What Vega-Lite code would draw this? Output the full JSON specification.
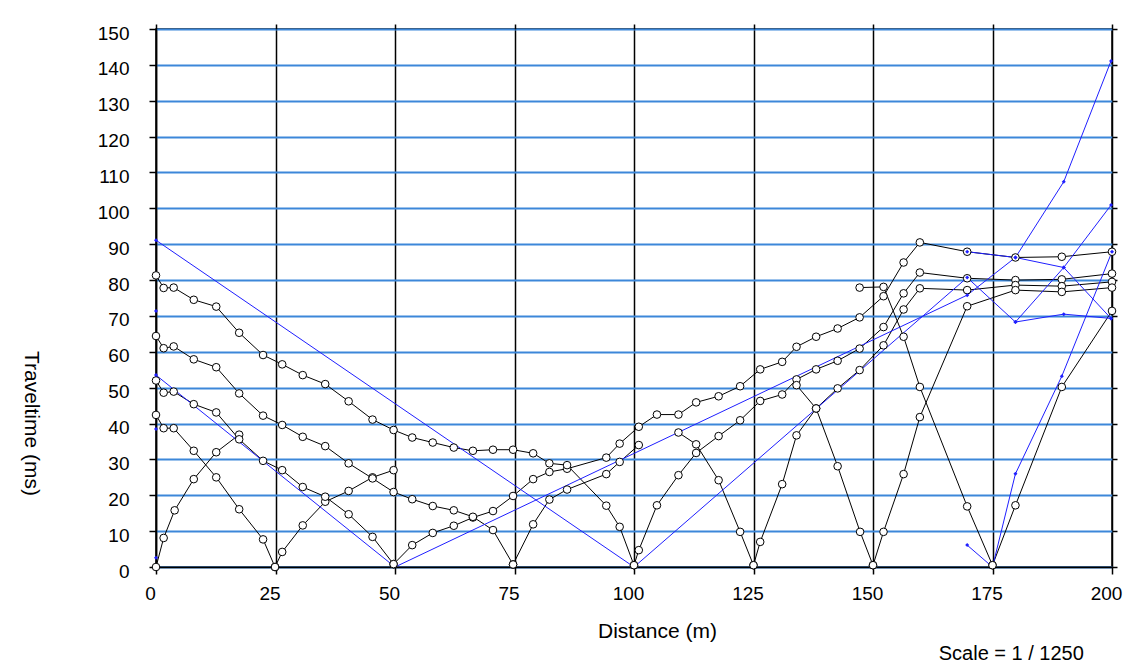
{
  "$schema": "https://vega.github.io/schema/vega-lite/v6.json",
  "width": 956,
  "height": 538,
  "autosize": {"type": "none"},
  "padding": {"left": 156, "top": 29, "right": 14, "bottom": 99},
  "background": "white",
  "title": {"text": "Scale = 1 / 1250", "orient": "bottom", "anchor": "end", "dx": -38, "offset": 3, "fontSize": 20, "font": "Liberation Sans", "fontWeight": "normal", "color": "black"},
  "config": {
    "view": {"stroke": "black", "strokeWidth": 1.5},
    "axis": {"labelFont": "Liberation Sans", "titleFont": "Liberation Sans", "labelColor": "black", "titleColor": "black", "domainColor": "black", "tickColor": "black", "titleFontWeight": "normal", "domainWidth": 1.5, "tickWidth": 1.5}
  },
  "datasets": {
    "curves": [
      {"s": "S0F", "k": "pick", "x": 0, "t": 0}, {"s": "S0F", "k": "pick", "x": 1.6, "t": 8.1}, {"s": "S0F", "k": "pick", "x": 3.9, "t": 15.8}, {"s": "S0F", "k": "pick", "x": 7.9, "t": 24.5}, {"s": "S0F", "k": "pick", "x": 12.6, "t": 32}, {"s": "S0F", "k": "pick", "x": 17.4, "t": 36.9},
      {"s": "S25R", "k": "pick", "x": 0, "t": 42.4}, {"s": "S25R", "k": "pick", "x": 1.6, "t": 38.7}, {"s": "S25R", "k": "pick", "x": 3.7, "t": 38.7}, {"s": "S25R", "k": "pick", "x": 7.9, "t": 32.4}, {"s": "S25R", "k": "pick", "x": 12.6, "t": 25}, {"s": "S25R", "k": "pick", "x": 17.4, "t": 16.1}, {"s": "S25R", "k": "pick", "x": 22.4, "t": 7.7}, {"s": "S25R", "k": "pick", "x": 24.9, "t": 0},
      {"s": "S25F", "k": "pick", "x": 24.9, "t": 0}, {"s": "S25F", "k": "pick", "x": 26.4, "t": 4.2}, {"s": "S25F", "k": "pick", "x": 30.7, "t": 11.6}, {"s": "S25F", "k": "pick", "x": 35.4, "t": 18.2}, {"s": "S25F", "k": "pick", "x": 40.3, "t": 21.2}, {"s": "S25F", "k": "pick", "x": 45.3, "t": 25}, {"s": "S25F", "k": "pick", "x": 49.7, "t": 27},
      {"s": "S50R", "k": "pick", "x": 0, "t": 52}, {"s": "S50R", "k": "pick", "x": 1.6, "t": 48.6}, {"s": "S50R", "k": "pick", "x": 3.7, "t": 48.9}, {"s": "S50R", "k": "pick", "x": 7.9, "t": 45.4}, {"s": "S50R", "k": "pick", "x": 12.6, "t": 43.1}, {"s": "S50R", "k": "pick", "x": 17.4, "t": 35.6}, {"s": "S50R", "k": "pick", "x": 22.4, "t": 29.6}, {"s": "S50R", "k": "pick", "x": 26.4, "t": 27}, {"s": "S50R", "k": "pick", "x": 30.7, "t": 22.3}, {"s": "S50R", "k": "pick", "x": 35.4, "t": 19.6}, {"s": "S50R", "k": "pick", "x": 40.3, "t": 14.7}, {"s": "S50R", "k": "pick", "x": 45.3, "t": 8.4}, {"s": "S50R", "k": "pick", "x": 49.7, "t": 0.8},
      {"s": "S50F", "k": "pick", "x": 49.7, "t": 0.8}, {"s": "S50F", "k": "pick", "x": 53.6, "t": 6.1}, {"s": "S50F", "k": "pick", "x": 57.9, "t": 9.5}, {"s": "S50F", "k": "pick", "x": 62.3, "t": 11.5}, {"s": "S50F", "k": "pick", "x": 66.3, "t": 13.8}, {"s": "S50F", "k": "pick", "x": 70.5, "t": 15.6}, {"s": "S50F", "k": "pick", "x": 74.7, "t": 19.8}, {"s": "S50F", "k": "pick", "x": 78.9, "t": 24.5}, {"s": "S50F", "k": "pick", "x": 82.3, "t": 26.5}, {"s": "S50F", "k": "pick", "x": 86, "t": 27.4}, {"s": "S50F", "k": "pick", "x": 94.2, "t": 30.5}, {"s": "S50F", "k": "pick", "x": 97, "t": 34.4}, {"s": "S50F", "k": "pick", "x": 101, "t": 39.1}, {"s": "S50F", "k": "pick", "x": 104.8, "t": 42.5}, {"s": "S50F", "k": "pick", "x": 109.3, "t": 42.5}, {"s": "S50F", "k": "pick", "x": 113, "t": 45.9}, {"s": "S50F", "k": "pick", "x": 117.7, "t": 47.6}, {"s": "S50F", "k": "pick", "x": 122.2, "t": 50.4}, {"s": "S50F", "k": "pick", "x": 126.4, "t": 55.1}, {"s": "S50F", "k": "pick", "x": 131, "t": 57.2}, {"s": "S50F", "k": "pick", "x": 134, "t": 61.4}, {"s": "S50F", "k": "pick", "x": 138.1, "t": 64.2}, {"s": "S50F", "k": "pick", "x": 142.6, "t": 66.5}, {"s": "S50F", "k": "pick", "x": 147.2, "t": 69.6}, {"s": "S50F", "k": "pick", "x": 152.2, "t": 75.5}, {"s": "S50F", "k": "pick", "x": 156.4, "t": 84.9}, {"s": "S50F", "k": "pick", "x": 159.8, "t": 90.5}, {"s": "S50F", "k": "pick", "x": 169.7, "t": 87.9}, {"s": "S50F", "k": "pick", "x": 179.8, "t": 86.3}, {"s": "S50F", "k": "pick", "x": 189.5, "t": 86.5}, {"s": "S50F", "k": "pick", "x": 200, "t": 87.9},
      {"s": "S75R", "k": "pick", "x": 0, "t": 64.4}, {"s": "S75R", "k": "pick", "x": 1.6, "t": 61}, {"s": "S75R", "k": "pick", "x": 3.7, "t": 61.5}, {"s": "S75R", "k": "pick", "x": 7.9, "t": 57.9}, {"s": "S75R", "k": "pick", "x": 12.6, "t": 55.7}, {"s": "S75R", "k": "pick", "x": 17.4, "t": 48.4}, {"s": "S75R", "k": "pick", "x": 22.4, "t": 42.2}, {"s": "S75R", "k": "pick", "x": 26.4, "t": 39.6}, {"s": "S75R", "k": "pick", "x": 30.7, "t": 36.3}, {"s": "S75R", "k": "pick", "x": 35.4, "t": 33.7}, {"s": "S75R", "k": "pick", "x": 40.3, "t": 28.9}, {"s": "S75R", "k": "pick", "x": 45.3, "t": 24.7}, {"s": "S75R", "k": "pick", "x": 49.7, "t": 20.9}, {"s": "S75R", "k": "pick", "x": 53.6, "t": 18.9}, {"s": "S75R", "k": "pick", "x": 57.9, "t": 17}, {"s": "S75R", "k": "pick", "x": 62.3, "t": 15.8}, {"s": "S75R", "k": "pick", "x": 66.3, "t": 14}, {"s": "S75R", "k": "pick", "x": 70.5, "t": 10.3}, {"s": "S75R", "k": "pick", "x": 74.7, "t": 0.7},
      {"s": "S75F", "k": "pick", "x": 74.7, "t": 0.7}, {"s": "S75F", "k": "pick", "x": 78.9, "t": 11.9}, {"s": "S75F", "k": "pick", "x": 82.3, "t": 18.8}, {"s": "S75F", "k": "pick", "x": 86, "t": 21.6}, {"s": "S75F", "k": "pick", "x": 94.2, "t": 25.9}, {"s": "S75F", "k": "pick", "x": 97, "t": 29.3}, {"s": "S75F", "k": "pick", "x": 101, "t": 34},
      {"s": "S100R", "k": "pick", "x": 0, "t": 81.3}, {"s": "S100R", "k": "pick", "x": 1.6, "t": 77.8}, {"s": "S100R", "k": "pick", "x": 3.7, "t": 77.9}, {"s": "S100R", "k": "pick", "x": 7.9, "t": 74.5}, {"s": "S100R", "k": "pick", "x": 12.6, "t": 72.6}, {"s": "S100R", "k": "pick", "x": 17.4, "t": 65.3}, {"s": "S100R", "k": "pick", "x": 22.4, "t": 59.1}, {"s": "S100R", "k": "pick", "x": 26.4, "t": 56.5}, {"s": "S100R", "k": "pick", "x": 30.7, "t": 53.5}, {"s": "S100R", "k": "pick", "x": 35.4, "t": 51}, {"s": "S100R", "k": "pick", "x": 40.3, "t": 46.2}, {"s": "S100R", "k": "pick", "x": 45.3, "t": 41.1}, {"s": "S100R", "k": "pick", "x": 49.7, "t": 38.2}, {"s": "S100R", "k": "pick", "x": 53.6, "t": 36.1}, {"s": "S100R", "k": "pick", "x": 57.9, "t": 34.7}, {"s": "S100R", "k": "pick", "x": 62.3, "t": 33.3}, {"s": "S100R", "k": "pick", "x": 66.3, "t": 32.4}, {"s": "S100R", "k": "pick", "x": 70.5, "t": 32.7}, {"s": "S100R", "k": "pick", "x": 74.7, "t": 32.7}, {"s": "S100R", "k": "pick", "x": 78.9, "t": 31.7}, {"s": "S100R", "k": "pick", "x": 82.3, "t": 28.9}, {"s": "S100R", "k": "pick", "x": 86, "t": 28.4}, {"s": "S100R", "k": "pick", "x": 94.2, "t": 17.1}, {"s": "S100R", "k": "pick", "x": 97, "t": 11.2}, {"s": "S100R", "k": "pick", "x": 100, "t": 0.5},
      {"s": "S100F", "k": "pick", "x": 100, "t": 0.5}, {"s": "S100F", "k": "pick", "x": 101, "t": 4.7}, {"s": "S100F", "k": "pick", "x": 104.8, "t": 17.2}, {"s": "S100F", "k": "pick", "x": 109.3, "t": 25.6}, {"s": "S100F", "k": "pick", "x": 113, "t": 31.8}, {"s": "S100F", "k": "pick", "x": 117.7, "t": 36.5}, {"s": "S100F", "k": "pick", "x": 122.2, "t": 40.9}, {"s": "S100F", "k": "pick", "x": 126.4, "t": 46.3}, {"s": "S100F", "k": "pick", "x": 131, "t": 48.1}, {"s": "S100F", "k": "pick", "x": 134, "t": 52.3}, {"s": "S100F", "k": "pick", "x": 138.1, "t": 55.1}, {"s": "S100F", "k": "pick", "x": 142.6, "t": 57.5}, {"s": "S100F", "k": "pick", "x": 147.2, "t": 60.9}, {"s": "S100F", "k": "pick", "x": 152.2, "t": 66.9}, {"s": "S100F", "k": "pick", "x": 156.4, "t": 76.3}, {"s": "S100F", "k": "pick", "x": 159.8, "t": 82.1}, {"s": "S100F", "k": "pick", "x": 169.7, "t": 80.5}, {"s": "S100F", "k": "pick", "x": 179.8, "t": 80}, {"s": "S100F", "k": "pick", "x": 189.5, "t": 80.2}, {"s": "S100F", "k": "pick", "x": 200, "t": 81.8},
      {"s": "S125R", "k": "pick", "x": 109.3, "t": 37.5}, {"s": "S125R", "k": "pick", "x": 113, "t": 34.2}, {"s": "S125R", "k": "pick", "x": 117.7, "t": 24.2}, {"s": "S125R", "k": "pick", "x": 122.2, "t": 9.8}, {"s": "S125R", "k": "pick", "x": 125, "t": 0.5},
      {"s": "S125F", "k": "pick", "x": 125, "t": 0.5}, {"s": "S125F", "k": "pick", "x": 126.4, "t": 7}, {"s": "S125F", "k": "pick", "x": 131, "t": 23.1}, {"s": "S125F", "k": "pick", "x": 134, "t": 36.7}, {"s": "S125F", "k": "pick", "x": 138.1, "t": 44.2}, {"s": "S125F", "k": "pick", "x": 142.6, "t": 49.8}, {"s": "S125F", "k": "pick", "x": 147.2, "t": 54.9}, {"s": "S125F", "k": "pick", "x": 152.2, "t": 61.8}, {"s": "S125F", "k": "pick", "x": 156.4, "t": 71.8}, {"s": "S125F", "k": "pick", "x": 159.8, "t": 77.7}, {"s": "S125F", "k": "pick", "x": 169.7, "t": 77.2}, {"s": "S125F", "k": "pick", "x": 179.8, "t": 78.6}, {"s": "S125F", "k": "pick", "x": 189.5, "t": 78.3}, {"s": "S125F", "k": "pick", "x": 200, "t": 79.5},
      {"s": "S150R", "k": "pick", "x": 134, "t": 50.7}, {"s": "S150R", "k": "pick", "x": 138.1, "t": 44.2}, {"s": "S150R", "k": "pick", "x": 142.6, "t": 28.1}, {"s": "S150R", "k": "pick", "x": 147.3, "t": 9.8}, {"s": "S150R", "k": "pick", "x": 150, "t": 0.5},
      {"s": "S150F", "k": "pick", "x": 150, "t": 0.5}, {"s": "S150F", "k": "pick", "x": 152.2, "t": 9.8}, {"s": "S150F", "k": "pick", "x": 156.4, "t": 25.9}, {"s": "S150F", "k": "pick", "x": 159.8, "t": 41.8}, {"s": "S150F", "k": "pick", "x": 169.7, "t": 72.7}, {"s": "S150F", "k": "pick", "x": 179.8, "t": 77.2}, {"s": "S150F", "k": "pick", "x": 189.5, "t": 76.7}, {"s": "S150F", "k": "pick", "x": 200, "t": 77.9},
      {"s": "S175R", "k": "pick", "x": 147.2, "t": 77.9}, {"s": "S175R", "k": "pick", "x": 152.2, "t": 78.1}, {"s": "S175R", "k": "pick", "x": 156.4, "t": 64.2}, {"s": "S175R", "k": "pick", "x": 159.8, "t": 50.2}, {"s": "S175R", "k": "pick", "x": 169.7, "t": 16.9}, {"s": "S175R", "k": "pick", "x": 175, "t": 0.5},
      {"s": "S175F", "k": "pick", "x": 175, "t": 0.5}, {"s": "S175F", "k": "pick", "x": 179.8, "t": 17.2}, {"s": "S175F", "k": "pick", "x": 189.5, "t": 50.2}, {"s": "S175F", "k": "pick", "x": 200, "t": 71.4},
      {"s": "P1", "k": "model", "x": 0, "t": 91.1}, {"s": "P1", "k": "model", "x": 100, "t": 0},
      {"s": "P2", "k": "model", "x": 0, "t": 53.5}, {"s": "P2", "k": "model", "x": 50, "t": 0},
      {"s": "P3", "k": "model", "x": 50, "t": 0}, {"s": "P3", "k": "model", "x": 169.7, "t": 75.8}, {"s": "P3", "k": "model", "x": 179.8, "t": 86.3}, {"s": "P3", "k": "model", "x": 189.9, "t": 107.4}, {"s": "P3", "k": "model", "x": 199.8, "t": 141.1},
      {"s": "P4", "k": "model", "x": 100, "t": 0}, {"s": "P4", "k": "model", "x": 169.7, "t": 80.7}, {"s": "P4", "k": "model", "x": 179.8, "t": 68.3}, {"s": "P4", "k": "model", "x": 189.9, "t": 70.5}, {"s": "P4", "k": "model", "x": 199.8, "t": 69.3},
      {"s": "P5", "k": "model", "x": 169.7, "t": 87.9}, {"s": "P5", "k": "model", "x": 179.8, "t": 86.3}, {"s": "P5", "k": "model", "x": 189.9, "t": 83.5}, {"s": "P5", "k": "model", "x": 199.8, "t": 69.3},
      {"s": "P6", "k": "model", "x": 169.7, "t": 6.1}, {"s": "P6", "k": "model", "x": 175, "t": 0}, {"s": "P6", "k": "model", "x": 179.8, "t": 26}, {"s": "P6", "k": "model", "x": 189.5, "t": 53.2}, {"s": "P6", "k": "model", "x": 200, "t": 87.9},
      {"s": "P7", "k": "model", "x": 179.8, "t": 68.3}, {"s": "P7", "k": "model", "x": 189.9, "t": 83.5}, {"s": "P7", "k": "model", "x": 199.8, "t": 100.9},
      {"s": "M1", "k": "model", "x": 0, "t": 71.4}, {"s": "M2", "k": "model", "x": 0, "t": 38.5}, {"s": "M3", "k": "model", "x": 0, "t": 2.6}
    ]
  },
  "data": {"name": "curves"},
  "resolve": {"axis": {"x": "independent", "y": "independent"}},
  "layer": [
    {
      "mark": {"type": "line", "strokeWidth": 1},
      "encoding": {
        "x": {"field": "x", "type": "quantitative", "scale": {"domain": [0, 200], "nice": false, "zero": false},
          "axis": {"orient": "bottom", "values": [0, 25, 50, 75, 100, 125, 150, 175, 200], "title": "Distance (m)", "titleFontSize": 21, "titleX": 501, "titleY": 64, "titleBaseline": "middle", "titleAlign": "center", "labelFontSize": 19, "labelPadding": 10, "labelOffset": -6, "tickSize": 7, "gridColor": "black", "gridWidth": 1.5, "gridOpacity": 1, "labelFlush": false}},
        "y": {"field": "t", "type": "quantitative", "scale": {"domain": [0, 150], "nice": false},
          "axis": {"orient": "left", "values": [0, 10, 20, 30, 40, 50, 60, 70, 80, 90, 100, 110, 120, 130, 140, 150], "title": "Traveltime (ms)", "titleFontSize": 21, "titleAngle": 90, "titleX": -126, "titleY": 394, "titleAlign": "center", "titleBaseline": "middle", "labelFontSize": 19, "labelPadding": 20, "labelOffset": 4, "tickSize": 7, "gridColor": "#3c87d9", "gridWidth": 2, "gridOpacity": 1, "labelFlush": false}},
        "detail": {"field": "s"},
        "color": {"field": "k", "type": "nominal", "scale": {"domain": ["pick", "model"], "range": ["black", "#1f1fff"]}, "legend": null}
      }
    },
    {
      "transform": [{"filter": "datum.k == 'pick'"}],
      "mark": {"type": "point", "shape": "circle", "size": 58, "filled": true, "fill": "white", "stroke": "black", "strokeWidth": 1, "opacity": 1},
      "encoding": {
        "x": {"field": "x", "type": "quantitative", "axis": null},
        "y": {"field": "t", "type": "quantitative", "axis": null}
      }
    },
    {
      "transform": [{"filter": "datum.k == 'model' && datum.t > 1"}],
      "mark": {"type": "point", "shape": "diamond", "size": 16, "filled": true, "color": "#1f1fff", "opacity": 1},
      "encoding": {
        "x": {"field": "x", "type": "quantitative", "axis": null},
        "y": {"field": "t", "type": "quantitative", "axis": null}
      }
    },
    {
      "mark": {"type": "point", "opacity": 0},
      "encoding": {
        "x": {"field": "x", "type": "quantitative", "axis": {"orient": "top", "values": [0, 25, 50, 75, 100, 125, 150, 175, 200], "labels": false, "grid": false, "title": null, "tickSize": 5, "domain": false}},
        "y": {"field": "t", "type": "quantitative", "axis": {"orient": "right", "values": [0, 10, 20, 30, 40, 50, 60, 70, 80, 90, 100, 110, 120, 130, 140, 150], "labels": false, "grid": false, "title": null, "tickSize": 5, "domain": false}}
      }
    }
  ]
}
